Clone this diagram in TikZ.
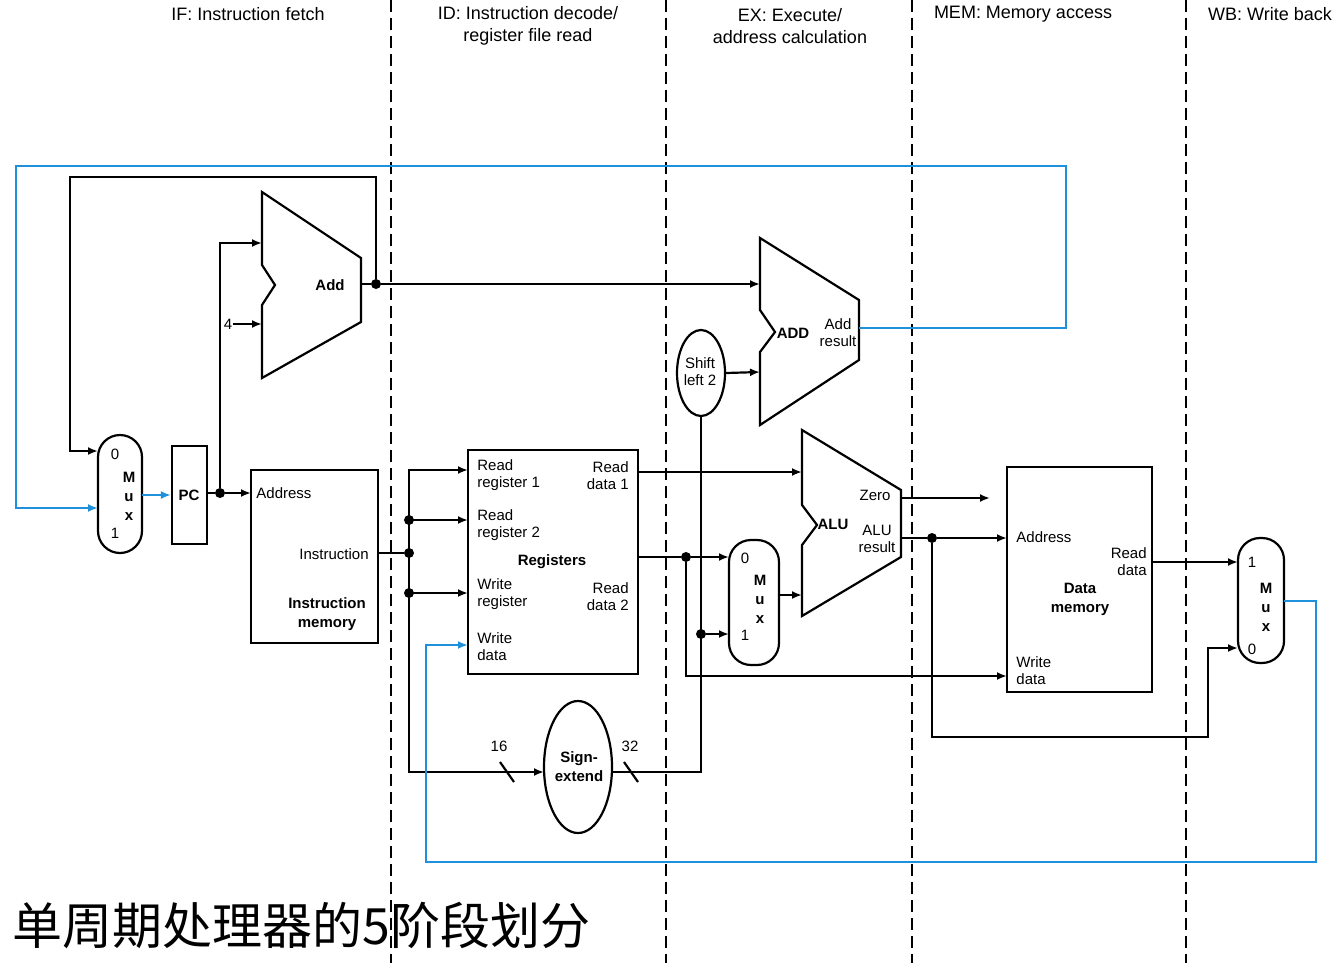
\documentclass[tikz,border=0pt]{standalone}
\usepackage{fontspec}
\setmainfont{Liberation Sans}
\newfontfamily\cjk{Noto Sans CJK SC}
\usetikzlibrary{shapes.geometric,arrows.meta}
\definecolor{myblue}{RGB}{30,144,220}
\begin{document}
\begin{tikzpicture}[x=0.5pt,y=-0.5pt,
  w/.style={line width=1.1pt},
  ar/.style={w,-{Latex[length=5pt,width=4pt]}},
  bl/.style={ar,myblue},
  dot/.style={circle,fill,inner sep=0pt,minimum size=5pt},
  t/.style={font=\fontsize{7.5}{8.5}\selectfont,inner sep=0pt,align=center},
  tb/.style={t,font=\fontsize{7.5}{9.5}\selectfont\bfseries},
  h/.style={font=\fontsize{9}{11}\selectfont,inner sep=0pt,align=center},
  box/.style={draw,w,fill=white},
  mux/.style={draw,w,rounded corners=11pt,fill=white}]
\useasboundingbox (0,0) rectangle (1342,963);
% dashed stage separators
\foreach \x in {391,666,912,1186} \draw[w,dash pattern=on 6pt off 3pt] (\x,0) -- (\x,963);
\node[h] at (248,14) {IF: Instruction fetch};
\node[h] at (528,26) {ID: Instruction decode/\\register file read};
\node[h] at (790,26) {EX: Execute/\\address calculation};
\node[h] at (1023,14) {MEM: Memory access};
\node[h] at (1270,14) {WB: Write back};
\node[anchor=west,inner sep=0pt,font=\cjk\fontsize{25}{27}\selectfont] at (12,925) {单周期处理器的5阶段划分};
% shapes
\draw[w,fill=white] (262,192) -- (361,258) -- (361,322) -- (262,378) -- (262,305) -- (275,285) -- (262,265) -- cycle;
\node[tb] at (330,285) {Add};
\coordinate (addin1) at (262,243); \coordinate (addin2) at (262,324);
\draw[w,fill=white] (760,238) -- (859,300) -- (859,360) -- (760,425) -- (760,352) -- (775,332) -- (760,310) -- cycle;
\node[tb] at (793,333) {ADD};
\node[t] at (838,333) {Add\\result};
\draw[w,fill=white] (802,430) -- (901,490) -- (901,557) -- (802,616) -- (802,545) -- (817,525) -- (802,505) -- cycle;
\node[tb] at (833,524) {ALU};
\node[t] at (875,495) {Zero};
\node[t] at (877,539) {ALU\\result};
\node[mux,minimum width=22pt,minimum height=59pt] (m1) at (120,494) {};
\node[t] at (115,454) {0}; \node[t] at (115,533) {1};
\node[tb] at (129,496) {M\\u\\x};
\node[box,minimum width=17.5pt,minimum height=49pt] (pc) at (189.5,495) {};
\node[tb] at (189,495) {PC};
\node[box,minimum width=63.5pt,minimum height=86.5pt] (im) at (314.5,556.5) {};
\node[t,anchor=west] at (256,493) {Address};
\node[t,anchor=east] at (369,554) {Instruction};
\node[tb] at (327,614) {Instruction\\memory};
\node[box,minimum width=85pt,minimum height=112pt] (reg) at (553,562) {};
\node[t,align=left,anchor=west] at (477,475) {Read\\register 1};
\node[t,align=left,anchor=west] at (477,525) {Read\\register 2};
\node[t,align=left,anchor=west] at (477,594) {Write\\register};
\node[t,align=left,anchor=west] at (477,647) {Write\\data};
\node[t,align=right,anchor=east] at (629,476) {Read\\data 1};
\node[t,align=right,anchor=east] at (629,597) {Read\\data 2};
\node[tb] at (552,562) {Registers};
\node[draw,w,ellipse,fill=white,minimum width=24pt,minimum height=43pt,inner sep=0pt] (sl) at (701,373) {};
\node[t] at (700,372) {Shift\\left 2};
\node[mux,minimum width=25pt,minimum height=62.5pt] (m2) at (754,602.5) {};
\node[t] at (745,558) {0}; \node[t] at (745,635) {1};
\node[tb] at (760,599) {M\\u\\x};
\node[draw,w,ellipse,fill=white,minimum width=34pt,minimum height=66pt,inner sep=0pt] (se) at (578,767) {};
\node[tb] at (579,767) {Sign-\\extend};
\node[box,minimum width=72.5pt,minimum height=112.5pt] (dm) at (1079.5,579.5) {};
\node[t,anchor=west] at (1016,537) {Address};
\node[t,align=right,anchor=east] at (1147,562) {Read\\data};
\node[tb] at (1080,599) {Data\\memory};
\node[t,align=left,anchor=west] at (1016,671) {Write\\data};
\node[mux,minimum width=23pt,minimum height=62.5pt] (m3) at (1261,600.5) {};
\node[t] at (1252,562) {1}; \node[t] at (1252,649) {0};
\node[tb] at (1266,607) {M\\u\\x};
% dots / coordinates
\node[dot] (d1) at (376,284) {};
\node[dot] (d2) at (220,493) {};
\node[dot] (d3) at (409,553) {};
\node[dot] at (409,520) {};
\node[dot] at (409,593) {};
\node[dot] (d4) at (686,557) {};
\node[dot] (d5) at (701,634) {};
\node[dot] (d6) at (932,538) {};
\node[t] (four) at (228,324) {4};
\coordinate (zero) at (990,498);
% connectors
\draw[ar] (361,284) -- (d1) -- (760,284);
\draw[ar] (d1) -- (376,177) -- (70,177) -- (70,451) -- (98,451);
\draw[bl] (859,328) -- (1066,328) -- (1066,166) -- (16,166) -- (16,508) -- (98,508);
\draw[bl] (142,495) -- (pc.west);
\draw[ar] (pc.east |- d2) -- (d2) -- (251,493);
\draw[ar] (d2) |- (addin1);
\draw[ar] (four) -- (addin2);
\draw[w] (378,553) -- (d3);
\draw[ar] (409,553) -- (409,470) -- (468,470);
\draw[ar] (409,520) -- (468,520);
\draw[ar] (409,593) -- (468,593);
\draw[ar] (409,553) -- (409,772) -- (544,772);
\draw[w] (500,762) -- (514,782);
\node[t] at (499,746) {16};
\draw[w] (612,772) -- (701,772) -- (sl.south);
\draw[w] (624,762) -- (638,782);
\node[t] at (630,746) {32};
\draw[ar] (d5) -- (729,634);
\draw[ar] (sl.east) -- (760,372);
\draw[ar] (638,472) -- (802,472);
\draw[ar] (638,557) -- (d4) -- (729,557);
\draw[ar] (d4) -- (686,676) -- (1007,676);
\draw[ar] (779,595) -- (802,595);
\draw[ar] (901,498) -- (zero);
\draw[ar] (901,538) -- (d6) -- (1007,538);
\draw[ar] (d6) -- (932,737) -- (1208,737) -- (1208,648) -- (1238,648);
\draw[ar] (1152,562) -- (1238,562);
\draw[bl] (1284,601) -- (1316,601) -- (1316,862) -- (426,862) -- (426,645) -- (468,645);
\end{tikzpicture}
\end{document}
